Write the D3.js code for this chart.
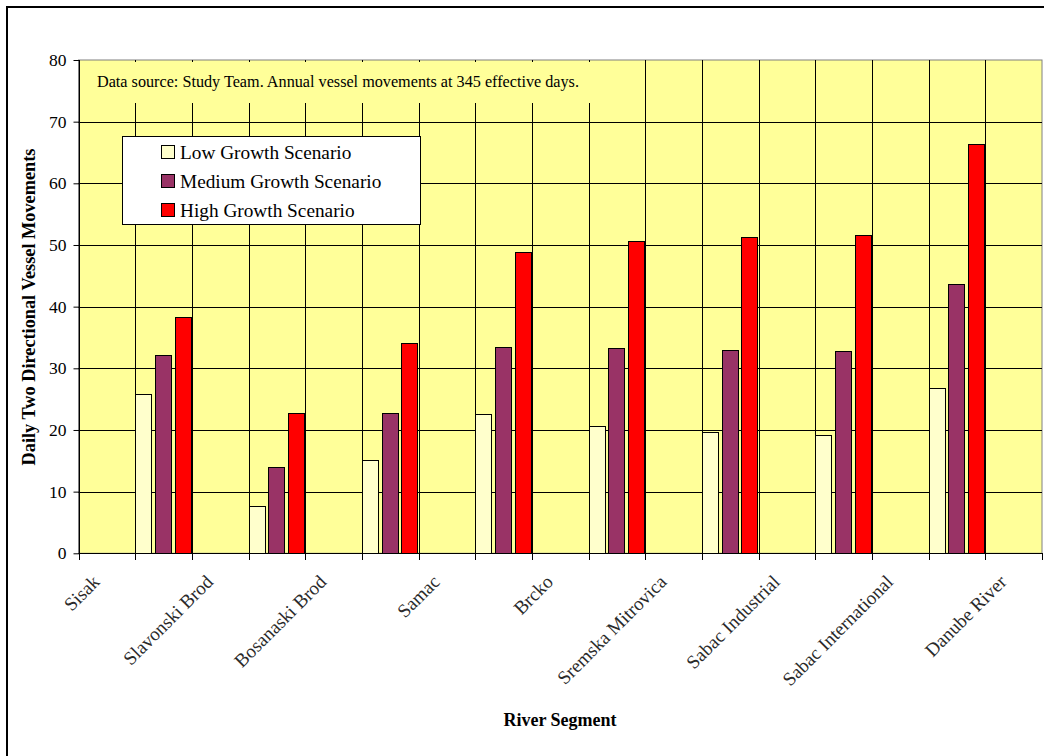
<!DOCTYPE html>
<html>
<head>
<meta charset="utf-8">
<script src="https://cdn.jsdelivr.net/npm/d3@7"></script>
<style>
  html, body { margin: 0; padding: 0; background: #fff; }
  svg { display: block; }
  text { font-family: "Liberation Serif", "Times New Roman", serif; fill: #000; }
</style>
</head>
<body>
<svg id="chart" width="1044" height="756"></svg>
<script>
// ---- data ----
const nodes = ["Sisak", "Slavonski Brod", "Bosanaski Brod", "Samac", "Brcko",
               "Sremska Mitrovica", "Sabac Industrial", "Sabac International", "Danube River"];
const seriesNames = ["Low Growth Scenario", "Medium Growth Scenario", "High Growth Scenario"];
const lowGrowth    = [25.8, 7.7, 15.1, 22.6, 20.7, 19.7, 19.2, 26.8];
const mediumGrowth = [32.1, 14.0, 22.7, 33.5, 33.3, 32.9, 32.8, 43.7];
const highGrowth   = [38.4, 22.7, 34.1, 48.9, 50.6, 51.3, 51.7, 66.4];
const yTicks = [0, 10, 20, 30, 40, 50, 60, 70, 80];
const colors = ["#FFFFCC", "#993366", "#FF0000"];
const sourceNote = "Data source: Study Team. Annual vessel movements at 345 effective days.";
const yTitle = "Daily Two Directional Vessel Movements";
const xTitle = "River Segment";

(function () {
// segments lie between consecutive nodes
const segments = nodes.slice(0, -1).map((n, i) => n + " – " + nodes[i + 1]);
const slots = [];
nodes.forEach((n, i) => { slots.push("N:" + n); if (i < segments.length) slots.push("S:" + segments[i]); });
const seriesValues = [lowGrowth, mediumGrowth, highGrowth];

// ---- layout ----
const svg = d3.select("#chart");
const pLeft = 78.5, pRight = 1042, pTop = 60, pBottom = 553.3;

svg.append("rect").attr("x", 0).attr("y", 0).attr("width", 1044).attr("height", 756).attr("fill", "#fff");
// outer frame
svg.append("rect").attr("x", 7).attr("y", 7).attr("width", 1060).attr("height", 780)
  .attr("fill", "none").attr("stroke", "#000").attr("stroke-width", 2);

const x = d3.scaleBand().domain(slots).range([pLeft, pRight]).padding(0);
const y = d3.scaleLinear().domain([0, 80]).range([pBottom, pTop]);
const x1 = d3.scaleBand().domain(seriesNames).range([0, x.bandwidth()]).paddingInner(0.12).paddingOuter(0);

// plot background
svg.append("rect").attr("x", pLeft).attr("y", pTop).attr("width", pRight - pLeft).attr("height", pBottom - pTop)
  .attr("fill", "#FFFF99").attr("stroke", "#808080").attr("stroke-width", 1);

// horizontal gridlines
svg.append("g").selectAll("line").data(yTicks.filter(d => d > 0 && d < 80)).join("line")
  .attr("x1", pLeft).attr("x2", pRight)
  .attr("y1", d => Math.round(y(d)) + 0.5).attr("y2", d => Math.round(y(d)) + 0.5)
  .attr("stroke", "#000").attr("stroke-width", 1);

// vertical gridlines at slot boundaries
const boundaries = slots.slice(1).map(s => x(s));
svg.append("g").selectAll("line").data(boundaries).join("line")
  .attr("x1", d => Math.round(d) + 0.5).attr("x2", d => Math.round(d) + 0.5)
  .attr("y1", pTop).attr("y2", pBottom)
  .attr("stroke", "#000").attr("stroke-width", 1);

// source note box (covers gridlines)
svg.append("rect").attr("x", pLeft + 1).attr("y", pTop + 2).attr("width", 560).attr("height", 41)
  .attr("fill", "#FFFF99");
svg.append("text").attr("x", 97).attr("y", 87).attr("font-size", 16.2).text(sourceNote);

// bars
const barData = [];
segments.forEach((seg, i) => seriesNames.forEach((s, j) =>
  barData.push({ slot: "S:" + seg, series: s, value: seriesValues[j][i], color: colors[j] })));
svg.append("g").selectAll("rect").data(barData).join("rect")
  .attr("x", d => Math.round(x(d.slot) + x1(d.series)) + 0.5)
  .attr("y", d => Math.round(y(d.value)) + 0.5)
  .attr("width", d => Math.round(x1.bandwidth()) - 1)
  .attr("height", d => Math.round(y(0)) - Math.round(y(d.value)))
  .attr("fill", d => d.color).attr("stroke", "#000").attr("stroke-width", 1);

// y axis
svg.append("line").attr("x1", Math.round(pLeft) + 0.5).attr("x2", Math.round(pLeft) + 0.5)
  .attr("y1", pTop).attr("y2", pBottom + 0.5).attr("stroke", "#000");
const yAxis = svg.append("g").attr("transform", `translate(${Math.round(pLeft) + 0.5},0)`)
  .call(d3.axisLeft(y).tickValues(yTicks).tickSize(6).tickPadding(7).tickFormat(d3.format("d")));
yAxis.select(".domain").remove();
yAxis.selectAll("line").attr("stroke", "#000");
yAxis.selectAll("text").attr("font-size", 17.5).attr("font-family", "Liberation Serif, Times New Roman, serif");

// x axis line and ticks
svg.append("line").attr("x1", pLeft).attr("x2", pRight)
  .attr("y1", Math.round(pBottom) + 0.5).attr("y2", Math.round(pBottom) + 0.5).attr("stroke", "#000");
const tickPos = slots.map(s => x(s)).concat([pRight]);
svg.append("g").selectAll("line").data(tickPos).join("line")
  .attr("x1", d => Math.round(d) + 0.5).attr("x2", d => Math.round(d) + 0.5)
  .attr("y1", Math.round(pBottom)).attr("y2", Math.round(pBottom) + 7)
  .attr("stroke", "#000");

// x labels (nodes), rotated
svg.append("g").selectAll("text").data(nodes).join("text")
  .attr("transform", d => `translate(${x("N:" + d) + x.bandwidth() / 2 - 6},583) rotate(-45)`)
  .attr("text-anchor", "end").attr("font-size", 19).style("fill", "#2a2a2a")
  .text(d => d);

// axis titles
svg.append("text").attr("transform", "translate(35,307) rotate(-90)")
  .attr("text-anchor", "middle").attr("font-size", 18.3).attr("font-weight", "bold").text(yTitle);
svg.append("text").attr("x", 560).attr("y", 726).attr("text-anchor", "middle")
  .attr("font-size", 18).attr("font-weight", "bold").text(xTitle);

// legend
const lg = svg.append("g");
lg.append("rect").attr("x", 122.5).attr("y", 136.5).attr("width", 298).attr("height", 88)
  .attr("fill", "#fff").attr("stroke", "#000");
const rowBase = [158.5, 187.5, 216.5];
seriesNames.forEach((s, i) => {
  lg.append("rect").attr("x", 161.5).attr("y", rowBase[i] - 13).attr("width", 13).attr("height", 13)
    .attr("fill", colors[i]).attr("stroke", "#000");
  lg.append("text").attr("x", 180).attr("y", rowBase[i]).attr("font-size", 19.3).text(s);
});
})();
</script>
</body>
</html>
